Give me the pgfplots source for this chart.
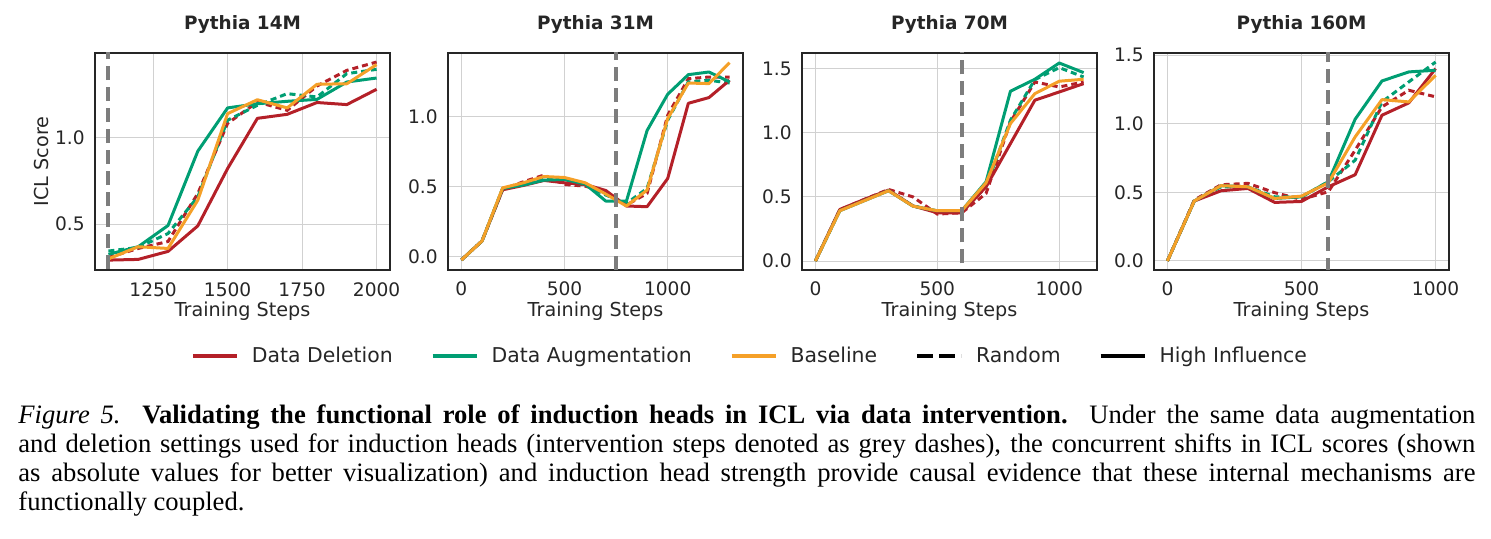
\documentclass[border=0pt]{standalone}
\usepackage{pgfplots}
\pgfplotsset{compat=1.18}
\usepackage{pgfplotstable}
\usepackage{fontspec}
\setmainfont{DejaVu Sans}
\newfontfamily\capfont{Liberation Serif}
\definecolor{cdel}{RGB}{180,32,40}
\definecolor{caug}{RGB}{0,158,115}
\definecolor{cbase}{RGB}{245,160,40}
\definecolor{cvl}{RGB}{125,125,125}

\pgfplotstableread{
x dels augs base delr augr
1100 0.293 0.326 0.300 0.308 0.345
1200 0.297 0.370 0.370 0.360 0.366
1300 0.343 0.492 0.360 0.400 0.446
1400 0.490 0.920 0.638 0.676 0.657
1500 0.820 1.169 1.136 1.080 1.098
1600 1.109 1.193 1.216 1.203 1.184
1700 1.132 1.207 1.169 1.155 1.251
1800 1.200 1.218 1.305 1.295 1.232
1900 1.188 1.318 1.308 1.385 1.366
2000 1.276 1.341 1.418 1.433 1.391
}\tA
\pgfplotstableread{
x dels augs base delr augr
0 -0.026 -0.026 -0.026 -0.026 -0.026
100 0.110 0.110 0.110 0.110 0.110
200 0.476 0.486 0.490 0.480 0.485
300 0.507 0.510 0.526 0.533 0.521
400 0.543 0.545 0.571 0.581 0.557
500 0.526 0.550 0.564 0.514 0.533
600 0.514 0.517 0.526 0.502 0.510
700 0.471 0.395 0.445 0.462 0.438
800 0.360 0.395 0.360 0.367 0.379
900 0.355 0.900 0.474 0.450 0.486
1000 0.557 1.160 0.986 1.010 0.974
1100 1.095 1.300 1.240 1.271 1.248
1200 1.136 1.319 1.236 1.283 1.260
1300 1.260 1.248 1.386 1.283 1.240
}\tB
\pgfplotstableread{
x dels augs base delr augr
0 0.000 0.000 0.000 0.000 0.000
100 0.402 0.392 0.392 0.400 0.395
200 0.480 0.470 0.470 0.480 0.475
300 0.553 0.548 0.548 0.558 0.550
400 0.430 0.428 0.428 0.500 0.430
500 0.376 0.392 0.392 0.366 0.384
600 0.376 0.392 0.392 0.376 0.384
700 0.579 0.618 0.610 0.527 0.579
800 0.916 1.324 1.072 1.085 1.098
900 1.254 1.417 1.305 1.396 1.414
1000 1.318 1.544 1.402 1.357 1.508
1100 1.383 1.469 1.417 1.396 1.435
}\tC
\pgfplotstableread{
x dels augs base delr augr
0 0.000 0.000 0.000 0.000 0.000
100 0.437 0.437 0.437 0.444 0.437
200 0.512 0.549 0.549 0.556 0.541
300 0.529 0.541 0.541 0.566 0.541
400 0.427 0.456 0.456 0.498 0.468
500 0.434 0.468 0.473 0.449 0.468
600 0.541 0.578 0.570 0.505 0.578
700 0.629 1.034 0.905 0.808 0.735
800 1.063 1.313 1.177 1.124 1.160
900 1.153 1.379 1.160 1.245 1.306
1000 1.403 1.391 1.354 1.197 1.451
}\tD

\pgfplotsset{
  panel/.style={
    scale only axis, width=147.5pt, height=108.5pt, anchor=north west,
    axis line style={black!85, line width=0.6pt},
    grid=major, major grid style={draw=black!18, line width=0.5pt},
    tick style={draw=none},
    ticklabel style={font=\fontsize{9.3}{11}\selectfont, text=black!85},
    /pgf/number format/assume math mode=true,
    /pgf/number format/set thousands separator={},
    yticklabel style={/pgf/number format/fixed, /pgf/number format/fixed zerofill, /pgf/number format/precision=1, anchor=east, inner xsep=0pt, xshift=-5pt},
    xticklabel style={anchor=base, yshift=-13pt},
    xlabel={Training Steps},
    xlabel style={at={(axis description cs:0.5,-0.212)}, anchor=base, font=\fontsize{9.6}{11}\selectfont, text=black!85},
    ylabel style={at={(axis description cs:-0.1593,0.5)}, anchor=base, font=\fontsize{9.6}{11}\selectfont, text=black!85},
    title style={at={(axis description cs:0.5,1.0507)}, anchor=base, font=\fontsize{9.2}{11}\selectfont\bfseries, text=black!85},
    clip=true,
  },
  dl/.style={line width=1.5pt, line join=round},
  dr/.style={line width=1.5pt, dash pattern=on 3pt off 2pt},
  vl/.style={cvl, line width=2pt, dash pattern=on 7pt off 3.5pt},
}

\begin{document}
\begin{tikzpicture}
\useasboundingbox (0,0) rectangle (745.5pt,-269.5pt);

\begin{axis}[panel, at={(47.5pt,-26.5pt)}, title={Pythia 14M}, ylabel={ICL Score},
  xmin=1055, xmax=2045, ymin=0.236, ymax=1.485,
  xtick={1250,1500,1750,2000}, ytick={0.5,1.0},
  legend columns=5,
  legend style={at={(axis description cs:2.2237,-0.396)}, anchor=center, draw=none, fill=none,
    font=\fontsize{10.2}{12}\selectfont, text=black!85,
    /tikz/every odd column/.append style={column sep=4.5pt},
    /tikz/every even column/.append style={column sep=17pt}},
  legend image code/.code={\draw[#1] (0pt,0pt) -- (22pt,0pt);},
]
\addlegendimage{cdel, line width=2pt}\addlegendentry{Data Deletion}
\addlegendimage{caug, line width=2pt}\addlegendentry{Data Augmentation}
\addlegendimage{cbase, line width=2pt}\addlegendentry{Baseline}
\addlegendimage{black, line width=2pt, dash pattern=on 8pt off 3pt}\addlegendentry{Random}
\addlegendimage{black, line width=2pt}\addlegendentry{High Influence}
\addplot[cdel, dr, forget plot] table[x=x, y=delr] {\tA};
\addplot[caug, dr, forget plot] table[x=x, y=augr] {\tA};
\addplot[cdel, dl, forget plot] table[x=x, y=dels] {\tA};
\addplot[caug, dl, forget plot] table[x=x, y=augs] {\tA};
\addplot[cbase, dl, forget plot] table[x=x, y=base] {\tA};
\addplot[vl, forget plot] coordinates {(1100,0) (1100,2)};
\end{axis}

\begin{axis}[panel, at={(224pt,-26.5pt)}, title={Pythia 31M},
  xmin=-65, xmax=1365, ymin=-0.098, ymax=1.455,
  xtick={0,500,1000}, ytick={0,0.5,1.0}]
\addplot[cdel, dr] table[x=x, y=delr] {\tB};
\addplot[caug, dr] table[x=x, y=augr] {\tB};
\addplot[cdel, dl] table[x=x, y=dels] {\tB};
\addplot[caug, dl] table[x=x, y=augs] {\tB};
\addplot[cbase, dl] table[x=x, y=base] {\tB};
\addplot[vl] coordinates {(750,-1) (750,2)};
\end{axis}

\begin{axis}[panel, at={(401pt,-26.5pt)}, title={Pythia 70M},
  xmin=-55, xmax=1155, ymin=-0.07, ymax=1.622,
  xtick={0,500,1000}, ytick={0,0.5,1.0,1.5}]
\addplot[cdel, dr] table[x=x, y=delr] {\tC};
\addplot[caug, dr] table[x=x, y=augr] {\tC};
\addplot[cdel, dl] table[x=x, y=dels] {\tC};
\addplot[caug, dl] table[x=x, y=augs] {\tC};
\addplot[cbase, dl] table[x=x, y=base] {\tC};
\addplot[vl] coordinates {(600,-1) (600,2)};
\end{axis}

\begin{axis}[panel, at={(577pt,-26.5pt)}, title={Pythia 160M},
  xmin=-50, xmax=1050, ymin=-0.066, ymax=1.517,
  xtick={0,500,1000}, ytick={0,0.5,1.0,1.5}]
\addplot[cdel, dr] table[x=x, y=delr] {\tD};
\addplot[caug, dr] table[x=x, y=augr] {\tD};
\addplot[cdel, dl] table[x=x, y=dels] {\tD};
\addplot[caug, dl] table[x=x, y=augs] {\tD};
\addplot[cbase, dl] table[x=x, y=base] {\tD};
\addplot[vl] coordinates {(600,-1) (600,2)};
\end{axis}

\node[anchor=base west, inner sep=0pt, text width=728.5pt, align=justify,
  font=\capfont\fontsize{13.3}{14.5}\selectfont] at (9pt,-211.5pt) {\noindent
\textit{Figure 5.}\ \ \textbf{Validating the functional role of induction heads in ICL via data intervention.}\ \ Under the same data augmentation\linebreak
and deletion settings used for induction heads (intervention steps denoted as grey dashes), the concurrent shifts in ICL scores (shown\linebreak
as absolute values for better visualization) and induction head strength provide causal evidence that these internal mechanisms are\linebreak
functionally coupled.};
\end{tikzpicture}
\end{document}
